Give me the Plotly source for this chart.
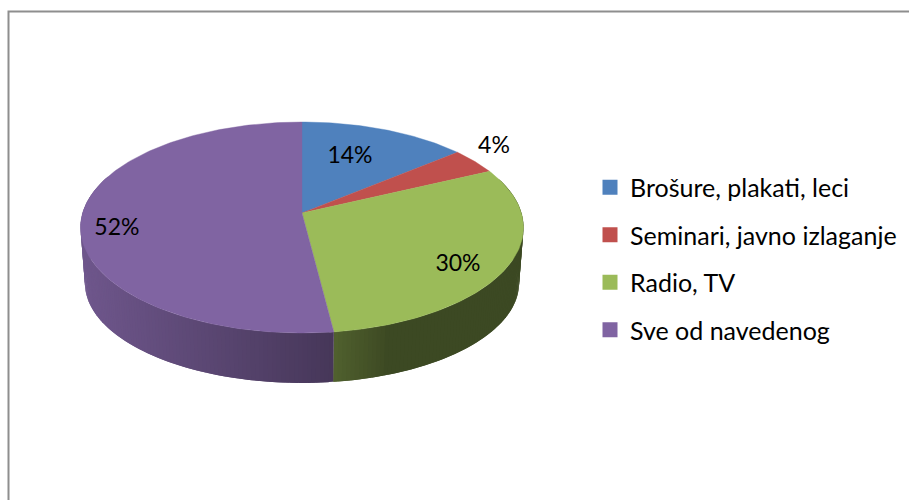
import math
import plotly.graph_objects as go

categories = ["Brošure, plakati, leci", "Seminari, javno izlaganje", "Radio, TV", "Sve od navedenog"]
values = [14, 4, 30, 52]
colors = ["#4f81bd", "#c0504d", "#9bbb59", "#8064a2"]

W, H = 909, 500
CX = 302
TILT = 0.1374
TOP = dict(a=219.4, b=103.5, y0=213.0)
BOTTOM = dict(a=215.0, b=98.0, y0=269.3)
label_place = [(0.652, -3.9), (1.203, -4.5), (0.806, 5.4), (0.839, -5.5)]
LABEL_DROP = 2.5
FONT = "Lato, Carlito, sans-serif"


def project(theta, r=1.0, plane=TOP):
    t = math.radians(theta)
    u, v = r * math.sin(t), r * math.cos(t)
    w = 1 + TILT * v
    return CX + plane["a"] * u / w, plane["y0"] - plane["b"] * v / w


def hex_rgb(c):
    return [int(c[i:i + 2], 16) for i in (1, 3, 5)]


def wall_shade(x):
    # lighting falls from the left of the wall to a dark band at the right
    if x < 333:
        return 0.86 - 0.31 * (x - 85) / 248
    if x < 385:
        return 0.52 - 0.12 * (x - 333) / 52
    return 0.39


total = sum(values)
spans = []
acc = 0
for v in values:
    spans.append((acc / total * 360, (acc + v) / total * 360))
    acc += v

fig = go.Figure()

# side wall, drawn strip by strip so that it can carry the shading
for (a0, a1), col in zip(spans, colors):
    base = hex_rgb(col)
    n = max(1, int(a1 - a0))
    for i in range(n):
        t0 = a0 + (a1 - a0) * i / n
        t1 = a0 + (a1 - a0) * (i + 1) / n
        mid = (t0 + t1) / 2
        if math.cos(math.radians(mid)) > 0.35:
            continue
        over = min(t1 + 1.0, a1)
        p0, p1 = project(t0), project(over)
        q0, q1 = project(t0, plane=BOTTOM), project(over, plane=BOTTOM)
        s = wall_shade((project(t0)[0] + project(t1)[0]) / 2)
        rgb = "rgb(%d,%d,%d)" % tuple(round(c * s) for c in base)
        fig.add_trace(go.Scatter(
            x=[p0[0], p1[0], q1[0], q0[0], p0[0]], y=[p0[1], p1[1], q1[1], q0[1], p0[1]],
            mode="none", fill="toself", fillcolor=rgb,
            hoverinfo="skip", showlegend=False))

# top surface
for (a0, a1), col, cat in zip(spans, colors, categories):
    n = max(8, int((a1 - a0)))
    pts = [project(a0 + (a1 - a0) * i / n) for i in range(n + 1)]
    apex = project(0, 0)
    xs = [apex[0]] + [p[0] for p in pts] + [apex[0]]
    ys = [apex[1]] + [p[1] for p in pts] + [apex[1]]
    fig.add_trace(go.Scatter(x=xs, y=ys, mode="lines", fill="toself", fillcolor=col,
                             line=dict(color=col, width=0.4), name=cat,
                             hoverinfo="name", showlegend=False))

# percentage labels
for (a0, a1), v, (r, dt) in zip(spans, values, label_place):
    x, y = project((a0 + a1) / 2 + dt, r)
    fig.add_trace(go.Scatter(x=[x], y=[y + LABEL_DROP], mode="text", text=[f"{v}%"],
                             textposition="middle center",
                             textfont=dict(family=FONT, size=23, color="black"),
                             hoverinfo="skip", showlegend=False))

# legend entries
for cat, col in zip(categories, colors):
    fig.add_trace(go.Scatter(x=[None], y=[None], mode="markers", name=cat, legendgroup=cat,
                             marker=dict(symbol="square", size=15, color=col)))

fig.update_layout(
    width=W, height=H, autosize=False,
    margin=dict(l=0, r=0, t=0, b=0),
    paper_bgcolor="white", plot_bgcolor="white",
    xaxis=dict(range=[0, W], visible=False, fixedrange=True),
    yaxis=dict(range=[H, 0], visible=False, fixedrange=True),
    legend=dict(x=590 / W, y=1 - 164.5 / H, xanchor="left", yanchor="top",
                font=dict(family=FONT, size=25, color="black"),
                tracegroupgap=12, bgcolor="rgba(0,0,0,0)",
                itemclick=False, itemdoubleclick=False),
    shapes=[dict(type="rect", xref="x", yref="y", x0=8.5, y0=11.5, x1=W + 20, y1=H + 20,
                 line=dict(color="#8e8e8e", width=2), fillcolor="rgba(0,0,0,0)", layer="below")],
)
fig.write_html("out.html", config=dict(displayModeBar=False),
               post_script="document.body.style.margin='0';")
